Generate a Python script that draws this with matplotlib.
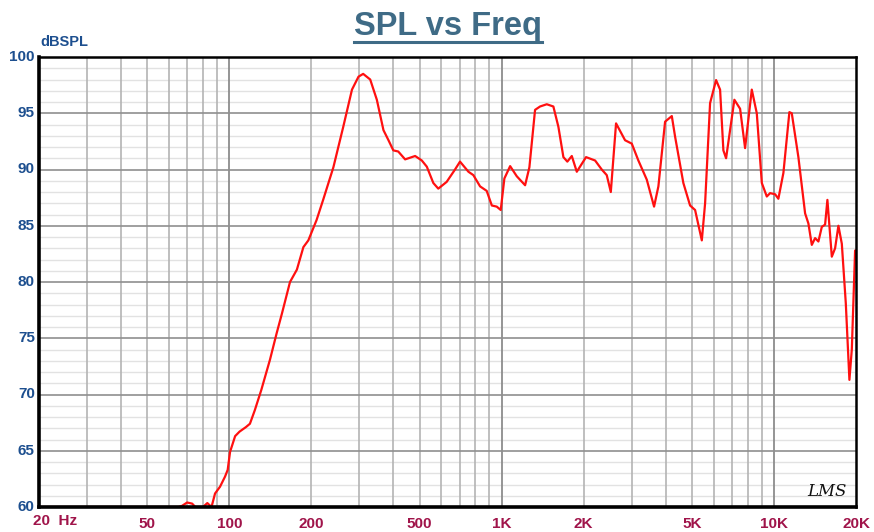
import matplotlib
matplotlib.use("Agg")
import matplotlib.pyplot as plt
from matplotlib.ticker import NullFormatter, FixedLocator

freq_hz = [20, 65, 67, 70, 73, 75, 80, 83, 86, 88.6, 92.4, 96.4, 98.6, 100.6, 105, 109,
           115, 119, 124, 131, 141, 149, 156, 167, 177, 187, 195, 209, 221, 241, 262,
           282, 298, 310, 329, 348, 368, 384, 400, 417, 442, 481, 509, 531, 561, 585,
           628, 674, 703, 755, 787, 833, 881, 920, 959, 992, 1023, 1074, 1136, 1219,
           1264, 1326, 1383, 1464, 1548, 1615, 1685, 1742, 1809, 1887, 2041, 2203,
           2330, 2431, 2516, 2630, 2838, 3004, 3176, 3410, 3627, 3762, 3981, 4214,
           4334, 4646, 4918, 5131, 5431, 5584, 5824, 6127, 6338, 6517, 6668, 6897,
           7152, 7506, 7830, 8286, 8644, 9020, 9408, 9674, 10091, 10375, 10826, 11388,
           11620, 12288, 13006, 13374, 13764, 14154, 14554, 14980, 15400, 15704,
           16300, 16760, 17236, 17740, 18348, 18916, 19304, 19848, 20000]
spl_db = [60.0, 60.0, 60.1, 60.4, 60.3, 60.0, 60.0, 60.35, 60.0, 61.2, 61.8, 62.7, 63.3,
          64.9, 66.3, 66.7, 67.1, 67.4, 68.6, 70.4, 73.1, 75.4, 77.2, 80.0, 81.1, 83.1,
          83.7, 85.5, 87.3, 90.2, 93.8, 97.1, 98.25, 98.5, 98.0, 96.2, 93.5, 92.6, 91.7,
          91.6, 90.9, 91.2, 90.8, 90.25, 88.8, 88.3, 88.9, 90.0, 90.7, 89.8, 89.5, 88.5,
          88.1, 86.8, 86.7, 86.4, 89.2, 90.3, 89.4, 88.6, 90.2, 95.3, 95.6, 95.8, 95.6,
          93.8, 91.1, 90.7, 91.2, 89.8, 91.1, 90.8, 90.0, 89.5, 88.0, 94.1, 92.6, 92.3,
          90.8, 89.1, 86.7, 88.5, 94.25, 94.75, 92.9, 88.8, 86.8, 86.4, 83.7, 87.0, 95.9,
          97.95, 97.1, 91.7, 91.0, 93.5, 96.2, 95.4, 91.9, 97.1, 95.0, 88.8, 87.6, 87.9,
          87.8, 87.4, 89.7, 95.1, 95.0, 91.1, 86.1, 85.2, 83.3, 83.9, 83.6, 84.9, 85.1,
          87.3, 82.25, 83.0, 85.0, 83.4, 78.1, 71.3, 74.0, 82.8, 82.8]

x_tick_vals = [20, 50, 100, 200, 500, 1000, 2000, 5000, 10000, 20000]
x_tick_labels = ["20  Hz", "50", "100", "200", "500", "1K", "2K", "5K", "10K", "20K"]
y_tick_vals = [60, 65, 70, 75, 80, 85, 90, 95, 100]

W, H = 874, 532
fig = plt.figure(figsize=(W / 100, H / 100), dpi=100)
fig.patch.set_facecolor("white")
L, R, B, T = 39, 856, 507, 57
ax = fig.add_axes([L / W, (H - B) / H, (R - L) / W, (B - T) / H])
ax.set_xscale("log")
ax.set_xlim(20, 20000)
ax.set_ylim(60, 100)

# grid lines
minor_x = []
for dec in [10, 100, 1000, 10000]:
    for m in range(1, 10):
        v = dec * m
        if 20 < v < 20000:
            minor_x.append(v)
for v in minor_x:
    dark = v in (100, 1000, 10000)
    ax.axvline(v, color="#8c8c8c" if dark else "#b4b4b4", lw=1.3 if dark else 1.2, zorder=1)
for v in range(61, 100):
    if v % 5 == 0:
        ax.axhline(v, color="#8f8f8f", lw=1.2, zorder=1)
    else:
        ax.axhline(v, color="#e2e2e2", lw=1.0, zorder=0.5)

ax.plot(freq_hz, spl_db, color="#ff1010", lw=1.6, zorder=3, solid_joinstyle="round")

ax.xaxis.set_major_locator(FixedLocator(x_tick_vals))
ax.xaxis.set_minor_formatter(NullFormatter())
ax.set_xticks(x_tick_vals)
ax.set_xticklabels([])
ax.tick_params(axis="both", which="both", length=0)
ax.set_yticks(y_tick_vals)
ax.set_yticklabels([])

font = "Liberation Sans"
for v, lab in zip(x_tick_vals, x_tick_labels):
    if v == 20:
        ax.text(0.0 - 6 / (R - L), -0.016, lab, transform=ax.transAxes, ha="left", va="top",
                color="#a0144a", fontsize=11, fontweight="bold", family=font)
    else:
        ax.annotate(lab, xy=(v, 60), xycoords="data", xytext=(0, -7), textcoords="offset points",
                    ha="center", va="top", color="#a0144a", fontsize=11, fontweight="bold",
                    family=font, annotation_clip=False)
for v in y_tick_vals:
    ax.annotate(str(v), xy=(20, v), xycoords="data", xytext=(-3, 0), textcoords="offset points",
                ha="right", va="center", color="#1d4f8f", fontsize=11, fontweight="bold",
                family=font, annotation_clip=False)

fig.text(40 / W, 1 - 42 / H, "dBSPL", color="#1d4f8f", fontsize=10.5, fontweight="bold",
         family=font, ha="left", va="center")

title = fig.text(448 / W, 1 - 27 / H, "SPL vs Freq", color="#3f6b86", fontsize=23.5,
                 fontweight="bold", family=font, ha="center", va="center")
fig.canvas.draw()
bb = title.get_window_extent()
uy = 1 - 42 / H
fig.add_artist(plt.Line2D([bb.x0 / W, bb.x1 / W], [uy, uy], color="#3f6b86",
                          lw=2.2, transform=fig.transFigure))

ax.text(0.965, 0.035, "LMS", transform=ax.transAxes, ha="center", va="center",
        fontsize=12, style="italic", family="DejaVu Serif", color="#111111")

for s in ["left", "bottom"]:
    ax.spines[s].set_linewidth(2.6)
for s in ["top", "right"]:
    ax.spines[s].set_linewidth(1.8)
for s in ax.spines.values():
    s.set_color("black")
    s.set_zorder(4)

fig.savefig("out.png", dpi=100, facecolor="white")
